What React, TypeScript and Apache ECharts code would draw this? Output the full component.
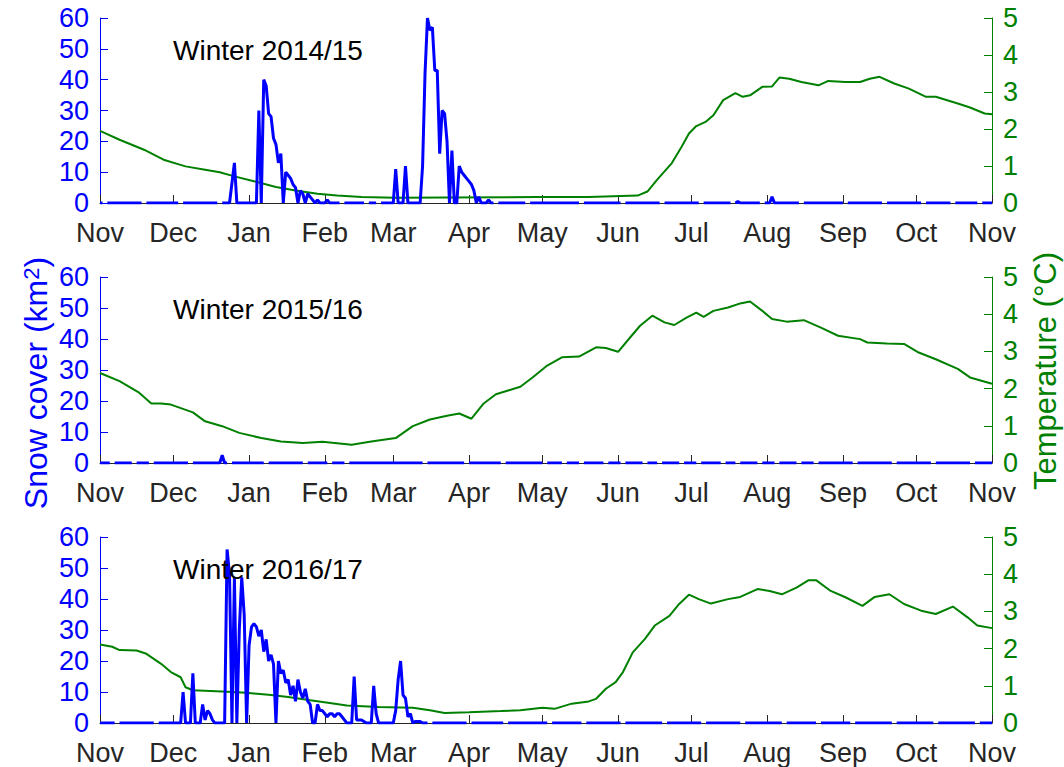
import React, { useEffect, useRef } from "react";
import * as echarts from "echarts";

// Day index: 0 = 1 Nov, 365 = 1 Nov of the following year
const monthDays = [0, 30, 61, 92, 120, 151, 181, 212, 242, 273, 304, 334, 365];
const monthNames = ["Nov", "Dec", "Jan", "Feb", "Mar", "Apr", "May", "Jun", "Jul", "Aug", "Sep", "Oct", "Nov"];
const snowTicks = [0, 10, 20, 30, 40, 50, 60];
const tempTicks = [0, 1, 2, 3, 4, 5];
const winterLabels = ["Winter 2014/15", "Winter 2015/16", "Winter 2016/17"];

// Snow cover (km²), [day, value]; null = missing day
const snow1415 = [
  [0, 0], [1, 0], [2, null], [3, 0], [17, 0], [18, null], [19, 0], [32, 0], [33, null], [34, 0],
  [48, 0], [49, null], [50, 0], [53, 0], [55, 13], [56, 0],
  [64, 0], [65, 30], [66, 0], [67, 40], [68, 38], [69, 29], [70, 28], [71, 21], [72, 19], [73, 13], [74, 16],
  [75, 0], [76, 10], [77, 9], [78, 8], [79, 6], [80, 5], [81, 0], [82, 4], [83, 3], [84, 0], [85, 3], [86, 2],
  [87, 1], [88, 0], [89, 1], [90, 0], [92, 0], [93, 1], [94, 0],
  [98, 0], [99, null], [100, 0], [108, 0], [109, null], [110, 0], [113, 0], [114, null], [115, 0],
  [120, 0], [121, 11], [122, 0], [124, 0], [125, 12], [126, 0],
  [131, 0], [132, 12], [133, 42], [134, 60], [135, 56], [136, 57], [137, 43], [138, 43], [139, 16], [140, 30],
  [141, 29], [142, 20], [143, 0], [144, 17], [145, 0], [146, 0], [147, 12], [148, 10], [149, 9], [150, 8],
  [151, 7], [152, 6], [153, 4], [154, 0], [155, 2], [156, 0], [158, 0], [159, 1], [160, 0],
  [161, 0], [162, null], [163, 0], [174, 0], [175, null], [176, 0], [196, 0], [197, null], [198, 0],
  [213, 0], [214, null], [215, 0], [229, 0], [230, null], [231, 0], [245, 0], [246, null], [247, 0],
  [258, 0], [259, null], [260, 0], [261, 0.5], [262, 0], [270, 0], [271, null], [272, 0],
  [274, 0], [275, 2], [276, 0], [286, 0], [287, null], [288, 0], [304, 0], [305, null], [306, 0],
  [320, 0], [321, null], [322, 0], [336, 0], [337, null], [338, 0], [348, 0], [349, null], [350, 0],
  [359, 0], [360, null], [361, 0], [365, 0],
];

const snow1516 = [
  [0, 0], [4, 0], [5, null], [6, 0], [13, 0], [14, null], [15, 0], [20, 0], [21, null], [22, 0],
  [36, 0], [37, null], [38, 0], [49, 0], [50, 2.5], [51, 0], [52, 0], [53, null], [54, 0],
  [67, 0], [68, null], [69, 0], [83, 0], [84, null], [85, 0], [93, 0], [94, null], [95, 0],
  [100, 0], [101, null], [102, 0], [132, 0], [133, null], [134, 0], [149, 0], [150, null], [151, 0],
  [164, 0], [165, null], [166, 0], [181, 0], [182, null], [183, 0], [189, 0], [190, null], [191, 0],
  [196, 0], [197, null], [198, 0], [206, 0], [207, null], [208, 0], [213, 0], [214, null], [215, 0],
  [222, 0], [223, null], [224, 0], [228, 0], [229, null], [230, 0], [237, 0], [238, null], [239, 0],
  [244, 0], [245, null], [246, 0], [254, 0], [255, null], [256, 0], [260, 0], [261, null], [262, 0],
  [269, 0], [270, null], [271, 0], [276, 0], [277, null], [278, 0], [285, 0], [286, null], [287, 0],
  [292, 0], [293, null], [294, 0], [308, 0], [309, null], [310, 0], [324, 0], [325, null], [326, 0],
  [340, 0], [341, null], [342, 0], [356, 0], [357, null], [358, 0], [365, 0],
];

const snow1617 = [
  [0, 0], [6, 0], [7, null], [8, 0], [22, 0], [23, null], [24, 0],
  [33, 0], [34, 10], [35, 0], [37, 0], [38, 16], [39, 0], [41, 0], [42, 6], [43, 1], [44, 4], [45, 3],
  [46, 1], [47, 0], [51, 0], [52, 56], [53, 48], [54, 0], [55, 47], [56, 0], [57, 30], [58, 47], [59, 35],
  [60, 0], [61, 25], [62, 31], [63, 32], [64, 31], [65, 28], [66, 30], [67, 23], [68, 27], [69, 20],
  [70, 22], [71, 19], [72, 0], [73, 20], [74, 16], [75, 17], [76, 13], [77, 14], [78, 9], [79, 12],
  [80, 7], [81, 14], [82, 10], [83, 8], [84, 11], [85, 7], [86, 6], [87, 0], [88, 0], [89, 6], [90, 4],
  [91, 4], [92, 3], [93, 2], [94, 3], [95, 3], [96, 2], [97, 3], [98, 3], [99, 2], [100, 1], [101, 0],
  [103, 0], [104, 15], [105, 1], [107, 1], [108, 0.5], [109, 0], [111, 0], [112, 12], [113, 3], [114, 0],
  [120, 0], [121, 4], [122, 14], [123, 20], [124, 9], [125, 8], [126, 2], [127, 3], [128, 0], [129, 0.5],
  [131, 0.5], [132, 0], [134, 0], [135, null], [136, 0], [150, 0], [151, null], [152, 0],
  [165, 0], [166, null], [167, 0], [183, 0], [184, null], [185, 0], [197, 0], [198, null], [199, 0],
  [213, 0], [214, null], [215, 0], [230, 0], [231, null], [232, 0], [246, 0], [247, null], [248, 0],
  [262, 0], [263, null], [264, 0], [279, 0], [280, null], [281, 0], [293, 0], [294, null], [295, 0],
  [307, 0], [308, null], [309, 0], [324, 0], [325, null], [326, 0], [341, 0], [342, null], [343, 0],
  [358, 0], [359, null], [360, 0], [365, 0],
];

// Temperature (°C), [day, value]
const temp1415 = [
  [0, 1.95], [8, 1.71], [18, 1.44], [26, 1.17], [35, 0.99], [43, 0.9], [49, 0.83], [55, 0.72], [63, 0.59],
  [72, 0.43], [80, 0.34], [89, 0.25], [97, 0.2], [107, 0.16], [121, 0.14], [142, 0.15], [179, 0.16],
  [200, 0.16], [220, 0.2], [224, 0.31], [228, 0.63], [234, 1.08], [238, 1.52], [241, 1.88], [244, 2.08],
  [248, 2.2], [251, 2.37], [255, 2.78], [260, 2.97], [263, 2.87], [266, 2.91], [271, 3.14], [275, 3.15],
  [278, 3.39], [282, 3.36], [287, 3.27], [294, 3.18], [298, 3.3], [305, 3.27], [311, 3.27], [315, 3.36],
  [319, 3.41], [325, 3.23], [331, 3.09], [338, 2.87], [342, 2.87], [351, 2.69], [356, 2.58], [362, 2.42],
  [365, 2.4],
];

const temp1516 = [
  [0, 2.42], [8, 2.2], [16, 1.89], [21, 1.6], [25, 1.6], [29, 1.57], [38, 1.36], [43, 1.12], [50, 0.99],
  [57, 0.81], [66, 0.67], [74, 0.58], [83, 0.54], [91, 0.57], [96, 0.54], [103, 0.49], [111, 0.58],
  [121, 0.67], [128, 0.99], [135, 1.17], [142, 1.27], [147, 1.33], [152, 1.19], [157, 1.6], [162, 1.85],
  [167, 1.95], [172, 2.05], [177, 2.3], [183, 2.62], [189, 2.84], [196, 2.86], [203, 3.11], [207, 3.09],
  [212, 2.99], [217, 3.38], [221, 3.69], [226, 3.96], [231, 3.78], [235, 3.71], [240, 3.91], [244, 4.04],
  [247, 3.93], [251, 4.09], [257, 4.18], [262, 4.29], [266, 4.34], [271, 4.09], [275, 3.87], [281, 3.8],
  [288, 3.84], [295, 3.64], [302, 3.42], [311, 3.33], [314, 3.24], [322, 3.21], [329, 3.2], [335, 2.97],
  [342, 2.79], [351, 2.53], [356, 2.3], [365, 2.13],
];

const temp1617 = [
  [0, 2.11], [5, 2.05], [8, 1.96], [15, 1.95], [19, 1.86], [25, 1.59], [29, 1.37], [33, 1.23], [35, 0.96],
  [38, 0.88], [50, 0.85], [60, 0.81], [69, 0.76], [77, 0.7], [86, 0.61], [94, 0.54], [101, 0.47],
  [114, 0.43], [128, 0.41], [135, 0.34], [141, 0.27], [151, 0.29], [164, 0.32], [172, 0.34], [181, 0.41],
  [186, 0.38], [193, 0.52], [200, 0.58], [203, 0.65], [207, 0.92], [211, 1.1], [214, 1.37], [218, 1.9],
  [223, 2.26], [227, 2.62], [233, 2.88], [237, 3.2], [241, 3.45], [245, 3.33], [250, 3.21], [257, 3.33],
  [262, 3.39], [269, 3.6], [274, 3.55], [279, 3.46], [285, 3.64], [290, 3.84], [293, 3.84], [299, 3.55],
  [305, 3.38], [312, 3.15], [317, 3.39], [323, 3.46], [329, 3.2], [336, 3.02], [342, 2.93], [349, 3.13],
  [355, 2.84], [359, 2.62], [365, 2.55],
];

const snowSeries = [snow1415, snow1516, snow1617];
const tempSeries = [temp1415, temp1516, temp1617];

const FONT = '"Liberation Sans", Arial, Helvetica, sans-serif';
const BLUE = "#0000ff";
const GREEN = "#008000";
const DARK = "#262626";

const PANEL_TOP = [18, 277, 537];
const PANEL_H = [185, 186, 186];

export default function App() {
  const ref = useRef<HTMLDivElement>(null);

  useEffect(() => {
    if (!ref.current) return;
    const chart = echarts.init(ref.current, null, { renderer: "svg" });

    const grids = PANEL_TOP.map((top, i) => ({
      left: 100,
      right: 72,
      top,
      height: PANEL_H[i],
      containLabel: false,
    }));

    const xAxes = PANEL_TOP.map((_, i) => ({
      gridIndex: i,
      type: "value",
      min: 0,
      max: 365,
      axisLine: { show: true, onZero: false, lineStyle: { color: DARK, width: 1 } },
      axisTick: {
        show: true,
        inside: true,
        length: 8,
        customValues: monthDays,
        lineStyle: { color: DARK, width: 1 },
      },
      axisLabel: {
        customValues: monthDays,
        formatter: (v: number) => {
          const k = monthDays.indexOf(Math.round(v));
          return k >= 0 ? monthNames[k] : "";
        },
        color: DARK,
        fontSize: 27,
        fontFamily: FONT,
        margin: 16,
      },
      splitLine: { show: false },
    }));

    const yAxes: any[] = [];
    PANEL_TOP.forEach((_, i) => {
      yAxes.push({
        gridIndex: i,
        type: "value",
        position: "left",
        min: snowTicks[0],
        max: snowTicks[snowTicks.length - 1],
        interval: snowTicks[1] - snowTicks[0],
        axisLine: { show: true, lineStyle: { color: BLUE, width: 1 } },
        axisTick: { show: true, inside: true, length: 8, lineStyle: { color: BLUE } },
        axisLabel: { color: BLUE, fontSize: 27, fontFamily: FONT, margin: 11 },
        splitLine: { show: false },
      });
      yAxes.push({
        gridIndex: i,
        type: "value",
        position: "right",
        min: tempTicks[0],
        max: tempTicks[tempTicks.length - 1],
        interval: tempTicks[1] - tempTicks[0],
        axisLine: { show: true, lineStyle: { color: GREEN, width: 1 } },
        axisTick: { show: true, inside: true, length: 8, lineStyle: { color: GREEN } },
        axisLabel: { color: GREEN, fontSize: 27, fontFamily: FONT, margin: 11 },
        splitLine: { show: false },
      });
    });

    const series: any[] = [];
    PANEL_TOP.forEach((_, i) => {
      series.push({
        type: "line",
        xAxisIndex: i,
        yAxisIndex: 2 * i + 1,
        data: tempSeries[i],
        showSymbol: false,
        symbol: "none",
        lineStyle: { color: GREEN, width: 2 },
        z: 2,
      });
      series.push({
        type: "line",
        xAxisIndex: i,
        yAxisIndex: 2 * i,
        data: snowSeries[i],
        showSymbol: false,
        symbol: "none",
        connectNulls: false,
        lineStyle: { color: BLUE, width: 3 },
        z: 3,
      });
    });

    const graphic: any[] = winterLabels.map((t, i) => ({
      type: "text",
      x: 173,
      y: PANEL_TOP[i] + 32,
      z: 10,
      style: {
        text: t,
        fill: "#000",
        font: `28px ${FONT}`,
        align: "left",
        verticalAlign: "middle",
      },
    }));
    graphic.push({
      type: "text",
      x: 36,
      y: 383,
      rotation: Math.PI / 2,
      z: 10,
      style: {
        text: "{a|Snow cover (km}{b|2}{a|)}",
        align: "center",
        verticalAlign: "middle",
        rich: {
          a: { fontSize: 32, fontFamily: FONT, fill: BLUE },
          b: { fontSize: 22, fontFamily: FONT, fill: BLUE, verticalAlign: "top" },
        },
      },
    });
    graphic.push({
      type: "text",
      x: 1045,
      y: 371,
      rotation: Math.PI / 2,
      z: 10,
      style: {
        text: "Temperature (°C)",
        fill: GREEN,
        font: `31px ${FONT}`,
        align: "center",
        verticalAlign: "middle",
      },
    });

    chart.setOption({
      animation: false,
      backgroundColor: "#ffffff",
      grid: grids,
      xAxis: xAxes,
      yAxis: yAxes,
      series,
      graphic,
    });

    return () => chart.dispose();
  }, []);

  return (
    <div
      ref={ref}
      style={{ position: "fixed", left: 0, top: 0, width: 1064, height: 767 }}
    />
  );
}
